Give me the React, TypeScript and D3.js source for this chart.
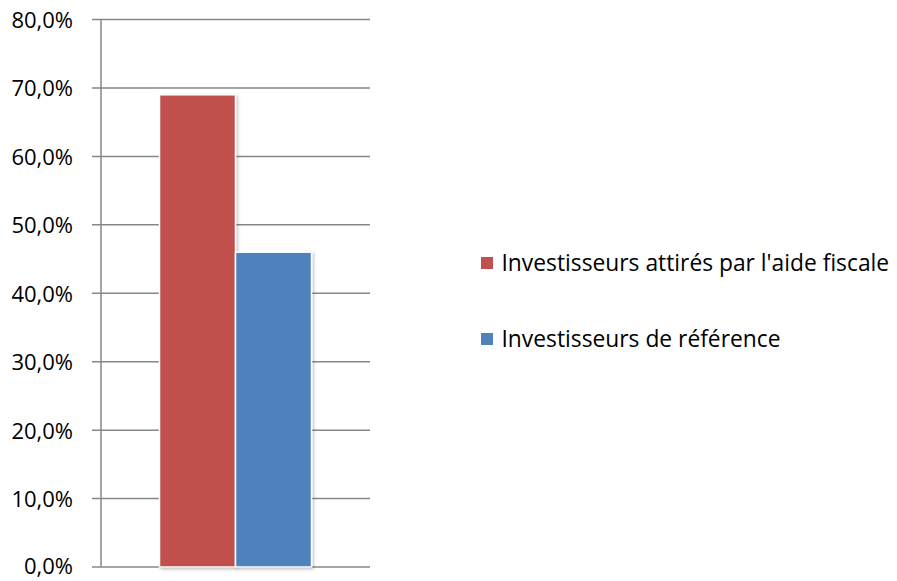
import React from "react";
import * as d3 from "d3";

const categories = ["Groupe"];
const seriesNames = ["Investisseurs attirés par l'aide fiscale", "Investisseurs de référence"];
const seriesValues = [69, 46];
const seriesColors = ["#C0504D", "#4F81BD"];
const yTicks = [0, 10, 20, 30, 40, 50, 60, 70, 80];

const W = 897;
const H = 581;
const plotLeft = 101;
const plotRight = 370;
const plotTop = 19.5;
const plotBottom = 567;

export default function App() {
  const y = d3.scaleLinear().domain([0, 80]).range([plotBottom, plotTop]);
  const x0 = d3.scaleBand<string>().domain(categories).range([plotLeft, plotRight]).paddingInner(0).paddingOuter(0.385);
  const x1 = d3.scaleBand<string>().domain(seriesNames).range([0, x0.bandwidth()]).padding(0);
  const fmt = (v: number) => v.toFixed(1).replace(".", ",") + "%";
  const font = "'Open Sans', sans-serif";

  return (
    <svg width={W} height={H} style={{ position: "absolute", left: 0, top: 0, background: "#fff" }}>
      <defs>
        <filter id="sh" x="-20%" y="-20%" width="140%" height="140%">
          <feDropShadow dx="1.5" dy="1.5" stdDeviation="1.5" floodColor="#000" floodOpacity="0.25" />
        </filter>
      </defs>
      {yTicks.map((t) => (
        <g key={t}>
          <line x1={92} x2={plotRight} y1={y(t)} y2={y(t)} stroke="#878787" strokeWidth={1.5} />
          <text x={73} y={Math.min(y(t) + 8.5, 573.5)} textAnchor="end" fontFamily={font} fontSize={22} fill="#000">
            {fmt(t)}
          </text>
        </g>
      ))}
      <line x1={plotLeft} x2={plotLeft} y1={plotTop} y2={plotBottom} stroke="#878787" strokeWidth={1.5} />
      {categories.map((c) => (
        <g key={c} transform={`translate(${x0(c)},0)`}>
          {seriesNames.map((s, i) => (
            <rect
              key={s}
              x={x1(s)!}
              y={y(seriesValues[i])}
              width={x1.bandwidth()}
              height={plotBottom - y(seriesValues[i])}
              fill={seriesColors[i]}
              stroke="#fff"
              strokeWidth={1.5}
              filter="url(#sh)"
            />
          ))}
        </g>
      ))}
      {seriesNames.map((s, i) => (
        <g key={s} transform={`translate(481,${257 + i * 76})`}>
          <rect x={0} y={0} width={12} height={12} fill={seriesColors[i]} />
          <text x={20.5} y={13.7} fontFamily={font} fontSize={22.8} fill="#000">
            {s}
          </text>
        </g>
      ))}
    </svg>
  );
}
